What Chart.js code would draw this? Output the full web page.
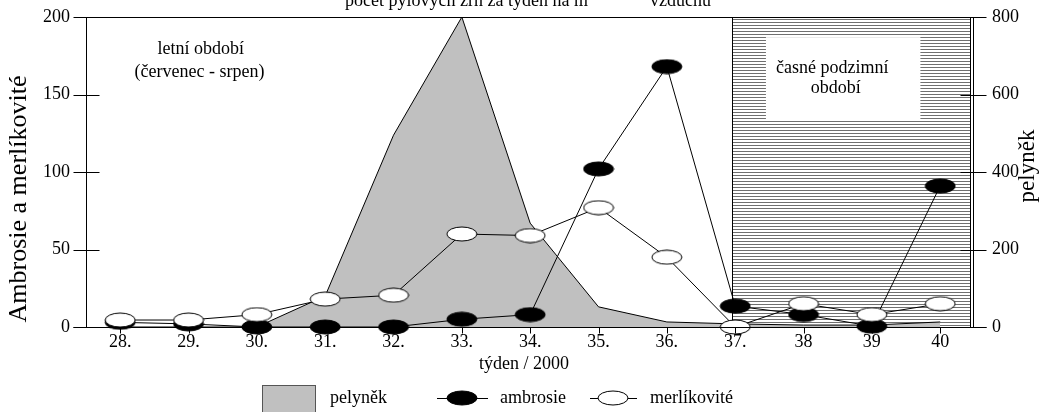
<!DOCTYPE html>
<html>
<head>
<meta charset="utf-8">
<title>Pyl 2000</title>
<script src="https://cdn.jsdelivr.net/npm/chart.js@4.4.1/dist/chart.umd.min.js"></script>
<style>
  html, body { margin: 0; padding: 0; background: #fff; }
  #wrap { width: 1050px; height: 412px; }
</style>
</head>
<body>
<div id="wrap"><canvas id="pollenChart" width="1050" height="412"></canvas></div>
<script>
// --- data ---
const weeks = [28, 29, 30, 31, 32, 33, 34, 35, 36, 37, 38, 39, 40];
const weekLabels = ['28.', '29.', '30.', '31.', '32.', '33.', '34.', '35.', '36.', '37.', '38', '39', '40'];
const pelynek = [0, 0, 0, 80, 495, 800, 268, 52, 13, 8, 5, 5, 13];        // right axis
const ambrosie = [3, 2, 0, 0, 0, 5, 8, 102, 168, 13.5, 8, 0.5, 91];       // left axis
const merlikovite = [4.5, 4.5, 8, 18, 20.5, 60, 59, 77, 45, 0, 15, 8, 15]; // left axis
const leftTicks = [0, 50, 100, 150, 200];
const rightTicks = [0, 200, 400, 600, 800];

// autumn period starts at week 37
const autumnStart = 36.96;

const FONT = '"Liberation Serif", "DejaVu Serif", serif';

// ellipse markers like in the original (black = ambrosie, white = merlíkovité)
function ellipseMarker(fill) {
    const c = document.createElement('canvas');
    c.width = 32;
    c.height = 16;
    const g = c.getContext('2d');
    g.beginPath();
    g.ellipse(16, 8, 15, 7, 0, 0, Math.PI * 2);
    g.fillStyle = fill;
    g.fill();
    g.lineWidth = 1;
    g.strokeStyle = '#000';
    g.stroke();
    return c;
}
const blackDot = ellipseMarker('#000');
const whiteDot = ellipseMarker('#fff');

const toXY = vals => weeks.map((w, i) => ({ x: w, y: vals[i] }));

function txt(ctx, s, x, y, size, align) {
    ctx.font = size + 'px ' + FONT;
    ctx.textAlign = align || 'center';
    ctx.textBaseline = 'middle';
    ctx.fillStyle = '#000';
    ctx.fillText(s, x, y);
}

const decor = {
    id: 'decor',
    beforeDatasetsDraw(chart) {
        const { ctx, chartArea: a, scales: { x, y } } = chart;
        ctx.save();

        // hatched early-autumn area
        const hx0 = Math.round(x.getPixelForValue(autumnStart));
        const hx1 = a.right - 3;
        ctx.strokeStyle = '#6f6f6f';
        ctx.lineWidth = 1;
        ctx.beginPath();
        for (let yy = a.top + 2.5; yy < a.bottom; yy += 3) {
            ctx.moveTo(hx0, yy);
            ctx.lineTo(hx1, yy);
        }
        ctx.stroke();
        ctx.strokeStyle = '#000';
        ctx.beginPath();
        ctx.moveTo(hx0 + 0.5, a.top);
        ctx.lineTo(hx0 + 0.5, a.bottom);
        ctx.moveTo(hx1 + 0.5, a.top);
        ctx.lineTo(hx1 + 0.5, a.bottom);
        ctx.stroke();

        // white box for the label
        const bx0 = x.getPixelForValue(37.45), bx1 = x.getPixelForValue(39.71);
        const by0 = y.getPixelForValue(187), by1 = y.getPixelForValue(133.5);
        ctx.fillStyle = '#fff';
        ctx.fillRect(bx0, by0, bx1 - bx0, by1 - by0);

        txt(ctx, 'časné podzimní', x.getPixelForValue(38.42), y.getPixelForValue(167), 18);
        txt(ctx, 'období', x.getPixelForValue(38.47), y.getPixelForValue(154), 18);

        txt(ctx, 'letní období', x.getPixelForValue(29.18), y.getPixelForValue(179.4), 18);
        txt(ctx, '(červenec - srpen)', x.getPixelForValue(29.16), y.getPixelForValue(164.5), 18);
        ctx.restore();
    },
    afterDraw(chart) {
        const { ctx, chartArea: a, scales: { x, y, y2 } } = chart;
        ctx.save();
        ctx.strokeStyle = '#000';
        ctx.lineWidth = 1;
        const L = a.left + 0.5, R = a.right + 0.5, T = a.top + 0.5, B = a.bottom + 0.5;
        ctx.beginPath();
        ctx.moveTo(L, T); ctx.lineTo(L, B);
        ctx.moveTo(R, T); ctx.lineTo(R, B);
        ctx.moveTo(L, T); ctx.lineTo(R, T);
        ctx.moveTo(L - 13, B); ctx.lineTo(R + 13, B);
        leftTicks.forEach(v => {
            const py = Math.round(y.getPixelForValue(v)) + 0.5;
            ctx.moveTo(L - 13, py); ctx.lineTo(L + 13, py);
        });
        rightTicks.forEach(v => {
            const py = Math.round(y2.getPixelForValue(v)) + 0.5;
            ctx.moveTo(R - 13, py); ctx.lineTo(R + 13, py);
        });
        weeks.forEach(w => {
            const px = Math.round(x.getPixelForValue(w)) + 0.5;
            ctx.moveTo(px, B); ctx.lineTo(px, B + 6);
        });
        ctx.stroke();

        // axis titles
        txt(ctx, 'týden / 2000', 524, 364, 18);
        ctx.save();
        ctx.translate(19, 199);
        ctx.rotate(-Math.PI / 2);
        txt(ctx, 'Ambrosie a merlíkovité', 0, 0, 26);
        ctx.restore();
        ctx.save();
        ctx.translate(1028, 166);
        ctx.rotate(-Math.PI / 2);
        txt(ctx, 'pelyněk', 0, 0, 23);
        ctx.restore();

        // cut-off heading at the very top
        ctx.font = '18px ' + FONT;
        ctx.textAlign = 'left';
        ctx.textBaseline = 'alphabetic';
        ctx.fillStyle = '#000';
        ctx.fillText('počet pylových zrn za týden na m', 345, 6);
        ctx.fillText('vzduchu', 650, 6);

        // legend
        const ly = 398;
        ctx.fillStyle = '#c0c0c0';
        ctx.fillRect(262, 385, 54, 30);
        ctx.strokeStyle = '#555';
        ctx.strokeRect(262.5, 385.5, 53, 30);
        txt(ctx, 'pelyněk', 330, ly, 18, 'left');

        ctx.strokeStyle = '#000';
        ctx.beginPath();
        ctx.moveTo(437, ly + 0.5); ctx.lineTo(488, ly + 0.5);
        ctx.moveTo(590, ly + 0.5); ctx.lineTo(637, ly + 0.5);
        ctx.stroke();
        ctx.drawImage(blackDot, 462 - 16, ly - 8);
        ctx.drawImage(whiteDot, 613 - 16, ly - 8);
        txt(ctx, 'ambrosie', 500, ly, 18, 'left');
        txt(ctx, 'merlíkovité', 650, ly, 18, 'left');
        ctx.restore();
    }
};

function initChart() {
    const ctx = document.getElementById('pollenChart').getContext('2d');
    const tickFont = { family: FONT, size: 18 };

    new Chart(ctx, {
        type: 'line',
        data: {
            datasets: [
                {
                    label: 'merlíkovité',
                    data: toXY(merlikovite),
                    yAxisID: 'y',
                    borderColor: '#000',
                    borderWidth: 1,
                    pointStyle: whiteDot,
                    pointRadius: 8,
                    fill: false,
                    clip: false,
                    order: 1
                },
                {
                    label: 'ambrosie',
                    data: toXY(ambrosie),
                    yAxisID: 'y',
                    borderColor: '#000',
                    borderWidth: 1,
                    pointStyle: blackDot,
                    pointRadius: 8,
                    fill: false,
                    clip: false,
                    order: 2
                },
                {
                    label: 'pelyněk',
                    data: toXY(pelynek),
                    yAxisID: 'y2',
                    borderColor: '#000',
                    borderWidth: 1,
                    backgroundColor: '#c0c0c0',
                    pointRadius: 0,
                    fill: 'origin',
                    order: 3
                }
            ]
        },
        options: {
            responsive: false,
            animation: false,
            devicePixelRatio: 1,
            layout: { padding: { top: 17, left: 0, right: 0, bottom: 0 } },
            plugins: {
                legend: { display: false },
                title: { display: false },
                tooltip: { enabled: false }
            },
            scales: {
                x: {
                    type: 'linear',
                    min: 27.5,
                    max: 40.48,
                    afterBuildTicks: s => { s.ticks = weeks.map(v => ({ value: v })); },
                    afterFit: s => { s.height = 85; s.paddingLeft = 0; s.paddingRight = 0; },
                    grid: { display: false, drawTicks: false },
                    border: { display: false },
                    ticks: {
                        color: '#000',
                        font: tickFont,
                        padding: 4,
                        autoSkip: false,
                        maxRotation: 0,
                        callback: (v, i) => weekLabels[i]
                    }
                },
                y: {
                    position: 'left',
                    min: 0,
                    max: 200,
                    afterBuildTicks: s => { s.ticks = leftTicks.map(v => ({ value: v })); },
                    afterFit: s => { s.width = 86; s.paddingTop = 0; s.paddingBottom = 0; },
                    grid: { display: false, drawTicks: false },
                    border: { display: false },
                    ticks: { color: '#000', font: tickFont, padding: 16 }
                },
                y2: {
                    position: 'right',
                    min: 0,
                    max: 800,
                    afterBuildTicks: s => { s.ticks = rightTicks.map(v => ({ value: v })); },
                    afterFit: s => { s.width = 77; s.paddingTop = 0; s.paddingBottom = 0; },
                    grid: { display: false, drawTicks: false },
                    border: { display: false },
                    ticks: { color: '#000', font: tickFont, padding: 19 }
                }
            }
        },
        plugins: [decor]
    });
}

document.addEventListener('DOMContentLoaded', initChart);
</script>
</body>
</html>
